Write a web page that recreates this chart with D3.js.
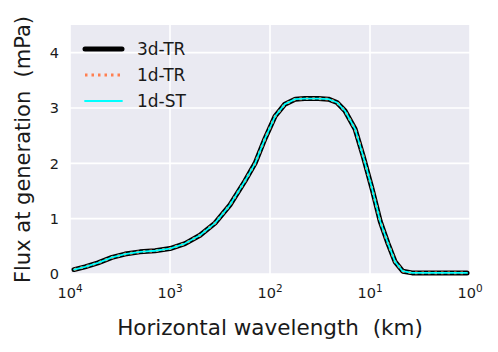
<!DOCTYPE html>
<html>
<head>
<meta charset="utf-8">
<script src="https://cdn.jsdelivr.net/npm/d3@7"></script>
<style>
  body { margin: 0; background: #fff; }
  text { font-family: "DejaVu Sans", sans-serif; fill: #1a1a1a; white-space: pre; }
</style>
</head>
<body>
<div id="chart"></div>
<script>
// wavelength (km) and flux at generation (mPa)
var wavelength = [9120, 7080, 5250, 3800, 2820, 2000, 1410, 1000, 708, 501, 355, 251, 178, 141, 112,
  89, 71, 56, 45, 33, 26, 21.4, 17.8, 14.1, 11.7, 9.5, 7.9, 6.6, 5.6, 4.7, 3.8, 1.07];
var flux3dTR = [0.08, 0.13, 0.2, 0.3, 0.36, 0.4, 0.42, 0.46, 0.55, 0.7, 0.92, 1.25, 1.68, 2.0, 2.45,
  2.85, 3.07, 3.16, 3.17, 3.17, 3.16, 3.1, 2.95, 2.62, 2.13, 1.53, 0.95, 0.55, 0.22, 0.05, 0.02, 0.02];
var flux1dTR = [0.08, 0.13, 0.2, 0.3, 0.36, 0.4, 0.42, 0.46, 0.55, 0.7, 0.92, 1.25, 1.68, 2.0, 2.45,
  2.85, 3.07, 3.16, 3.17, 3.17, 3.16, 3.1, 2.95, 2.62, 2.13, 1.53, 0.95, 0.55, 0.22, 0.05, 0.02, 0.02];
var flux1dST = [0.08, 0.13, 0.2, 0.3, 0.36, 0.4, 0.42, 0.46, 0.55, 0.7, 0.92, 1.25, 1.68, 2.0, 2.45,
  2.85, 3.07, 3.16, 3.17, 3.17, 3.16, 3.1, 2.95, 2.62, 2.13, 1.53, 0.95, 0.55, 0.22, 0.05, 0.02, 0.02];
var seriesNames = ["3d-TR", "1d-TR", "1d-ST"];
var xTicks = [1e4, 1e3, 1e2, 1e1, 1e0];
var xTickExp = ["4", "3", "2", "1", "0"];
var yTicks = [0, 1, 2, 3, 4];

var width = 498, height = 352;
var margin = {left: 70, right: 28, top: 25, bottom: 78};

var svg = d3.select("#chart")
  .append("svg")
  .attr("width", width)
  .attr("height", height);

var x = d3.scaleLog()
  .domain([1e4, 1e0])
  .range([margin.left, width - margin.right]);

var y = d3.scaleLinear()
  .domain([0, 4.5])
  .range([height - margin.bottom, margin.top]);

// background
svg.append("rect")
  .attr("x", margin.left)
  .attr("y", margin.top)
  .attr("width", width - margin.left - margin.right)
  .attr("height", height - margin.top - margin.bottom)
  .attr("fill", "#eaeaf2");

// grid
svg.append("g").selectAll("line")
  .data(xTicks)
  .enter().append("line")
  .attr("x1", d => x(d)).attr("x2", d => x(d))
  .attr("y1", margin.top).attr("y2", height - margin.bottom)
  .attr("stroke", "#fff").attr("stroke-width", 1.6);

svg.append("g").selectAll("line")
  .data(yTicks)
  .enter().append("line")
  .attr("x1", margin.left).attr("x2", width - margin.right)
  .attr("y1", d => y(d)).attr("y2", d => y(d))
  .attr("stroke", "#fff").attr("stroke-width", 1.6);

// y tick labels
svg.append("g").selectAll("text")
  .data(yTicks)
  .enter().append("text")
  .attr("x", margin.left - 11)
  .attr("y", d => y(d))
  .attr("dy", "0.36em")
  .attr("text-anchor", "end")
  .attr("font-size", 14.5)
  .text(d => d);

// x tick labels with exponents
var xl = svg.append("g").selectAll("text")
  .data(xTicks)
  .enter().append("text")
  .attr("x", d => x(d))
  .attr("y", height - margin.bottom + 24)
  .attr("text-anchor", "middle")
  .attr("font-size", 14.5);
xl.append("tspan").text("10");
xl.append("tspan")
  .attr("dy", -6)
  .attr("font-size", 10.5)
  .text((d, i) => xTickExp[i]);

// axis labels
svg.append("text")
  .attr("x", (margin.left + width - margin.right) / 2)
  .attr("y", 335)
  .attr("text-anchor", "middle")
  .attr("font-size", 21.5)
  .text("Horizontal wavelength  (km)");

svg.append("text")
  .attr("transform", "translate(30," + ((margin.top + height - margin.bottom) / 2) + ") rotate(-90)")
  .attr("text-anchor", "middle")
  .attr("font-size", 21)
  .text("Flux at generation  (mPa)");

var line = d3.line()
  .x(d => x(d[0]))
  .y(d => y(d[1]));

var styles = [
  {color: "#000000", width: 5, dash: null, cap: "round"},
  {color: "#ff7f50", width: 2.8, dash: "2.5,4", cap: "butt"},
  {color: "#00ffff", width: 1.8, dash: null, cap: "round"}
];
var series = [flux3dTR, flux1dTR, flux1dST];

series.forEach(function(s, i) {
  svg.append("path")
    .datum(wavelength.map((w, j) => [w, s[j]]))
    .attr("fill", "none")
    .attr("stroke", styles[i].color)
    .attr("stroke-width", styles[i].width)
    .attr("stroke-dasharray", styles[i].dash)
    .attr("stroke-linecap", styles[i].cap)
    .attr("stroke-linejoin", "round")
    .attr("d", line);
});

// legend
var legend = svg.append("g");
seriesNames.forEach(function(name, i) {
  var ly = 49 + i * 26;
  legend.append("line")
    .attr("x1", 85).attr("x2", 122)
    .attr("y1", ly).attr("y2", ly)
    .attr("stroke", styles[i].color)
    .attr("stroke-width", styles[i].width)
    .attr("stroke-dasharray", styles[i].dash)
    .attr("stroke-linecap", styles[i].cap);
  legend.append("text")
    .attr("x", 137)
    .attr("y", ly)
    .attr("dy", "0.36em")
    .attr("font-size", 17)
    .text(name);
});
</script>
</body>
</html>
